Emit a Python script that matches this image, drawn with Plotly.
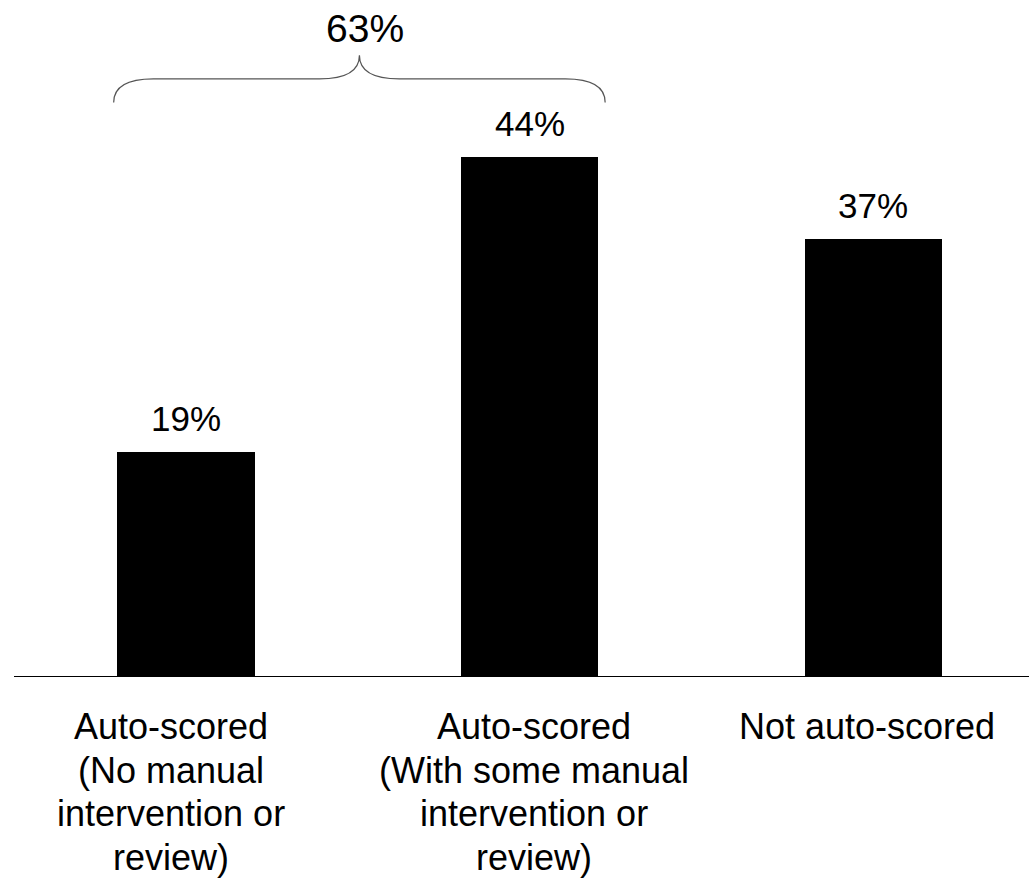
import plotly.graph_objects as go

# Survey result: how items are scored
categories = [
    "Auto-scored<br>(No manual<br>intervention or<br>review)",
    "Auto-scored<br>(With some manual<br>intervention or<br>review)",
    "Not auto-scored",
]
values = [19, 44, 37]
value_labels = ["19%", "44%", "37%"]
brace_label = "63%"
label_shifts = [-15, 4, -6]  # horizontal nudge of each category label, px

W, H = 1029, 880
x_pos = list(range(len(categories)))
BAR_W = 0.4

FONT = "Liberation Sans, Arial, sans-serif"

fig = go.Figure()
fig.add_trace(go.Bar(
    x=x_pos,
    y=values,
    width=BAR_W,
    marker=dict(color="black", line=dict(width=0)),
    hoverinfo="skip",
    showlegend=False,
))

# value labels above the bars
for xp, v, lab in zip(x_pos, values, value_labels):
    fig.add_annotation(
        x=xp, y=v, xref="x", yref="y", text=lab, showarrow=False,
        yanchor="bottom", yshift=12,
        font=dict(family=FONT, size=35, color="black"),
    )

# category labels under the axis, one annotation per line
LINE_GAP = 43.7
FIRST_LINE = -50.5
for xp, cat, sh in zip(x_pos, categories, label_shifts):
    for i, line in enumerate(cat.split("<br>")):
        fig.add_annotation(
            x=xp, y=0, xref="x", yref="y", text=line, showarrow=False,
            xanchor="center", yanchor="middle",
            xshift=sh, yshift=FIRST_LINE - i * LINE_GAP,
            font=dict(family=FONT, size=36, color="black"),
        )

# curly brace grouping the two auto-scored bars
x0, x1 = -0.21, 1.22
xm = (x0 + x1) / 2
y_end, y_mid, y_tip = 48.6, 50.6, 52.6
dx = 0.116
path = (
    f"M {x0},{y_end} Q {x0},{y_mid} {x0 + dx},{y_mid} "
    f"L {xm - dx},{y_mid} Q {xm},{y_mid} {xm},{y_tip} "
    f"Q {xm},{y_mid} {xm + dx},{y_mid} "
    f"L {x1 - dx},{y_mid} Q {x1},{y_mid} {x1},{y_end}"
)
fig.add_shape(type="path", path=path, xref="x", yref="y",
              line=dict(color="#555555", width=1.2))
fig.add_annotation(
    x=xm, y=54.9, xref="x", yref="y", text=brace_label, showarrow=False,
    xshift=6, yanchor="middle",
    font=dict(family=FONT, size=39, color="black"),
)

PX_PER_UNIT = 343.7
PLOT_LEFT = 14
BASE = 676
PX_PER_PCT = 11.8
x_max = (W - PLOT_LEFT) / PX_PER_UNIT - 0.5

fig.update_layout(
    width=W, height=H,
    margin=dict(l=PLOT_LEFT, r=0, t=0, b=H - BASE),
    paper_bgcolor="white", plot_bgcolor="white",
    bargap=0,
    xaxis=dict(
        range=[-0.5, x_max], showgrid=False, zeroline=False,
        showticklabels=False, ticks="",
        showline=True, linecolor="black", linewidth=1,
        fixedrange=True,
    ),
    yaxis=dict(
        range=[0, BASE / PX_PER_PCT], visible=False, showgrid=False,
        zeroline=False, fixedrange=True,
    ),
)

fig.write_html("out.html", config={"displayModeBar": False})
